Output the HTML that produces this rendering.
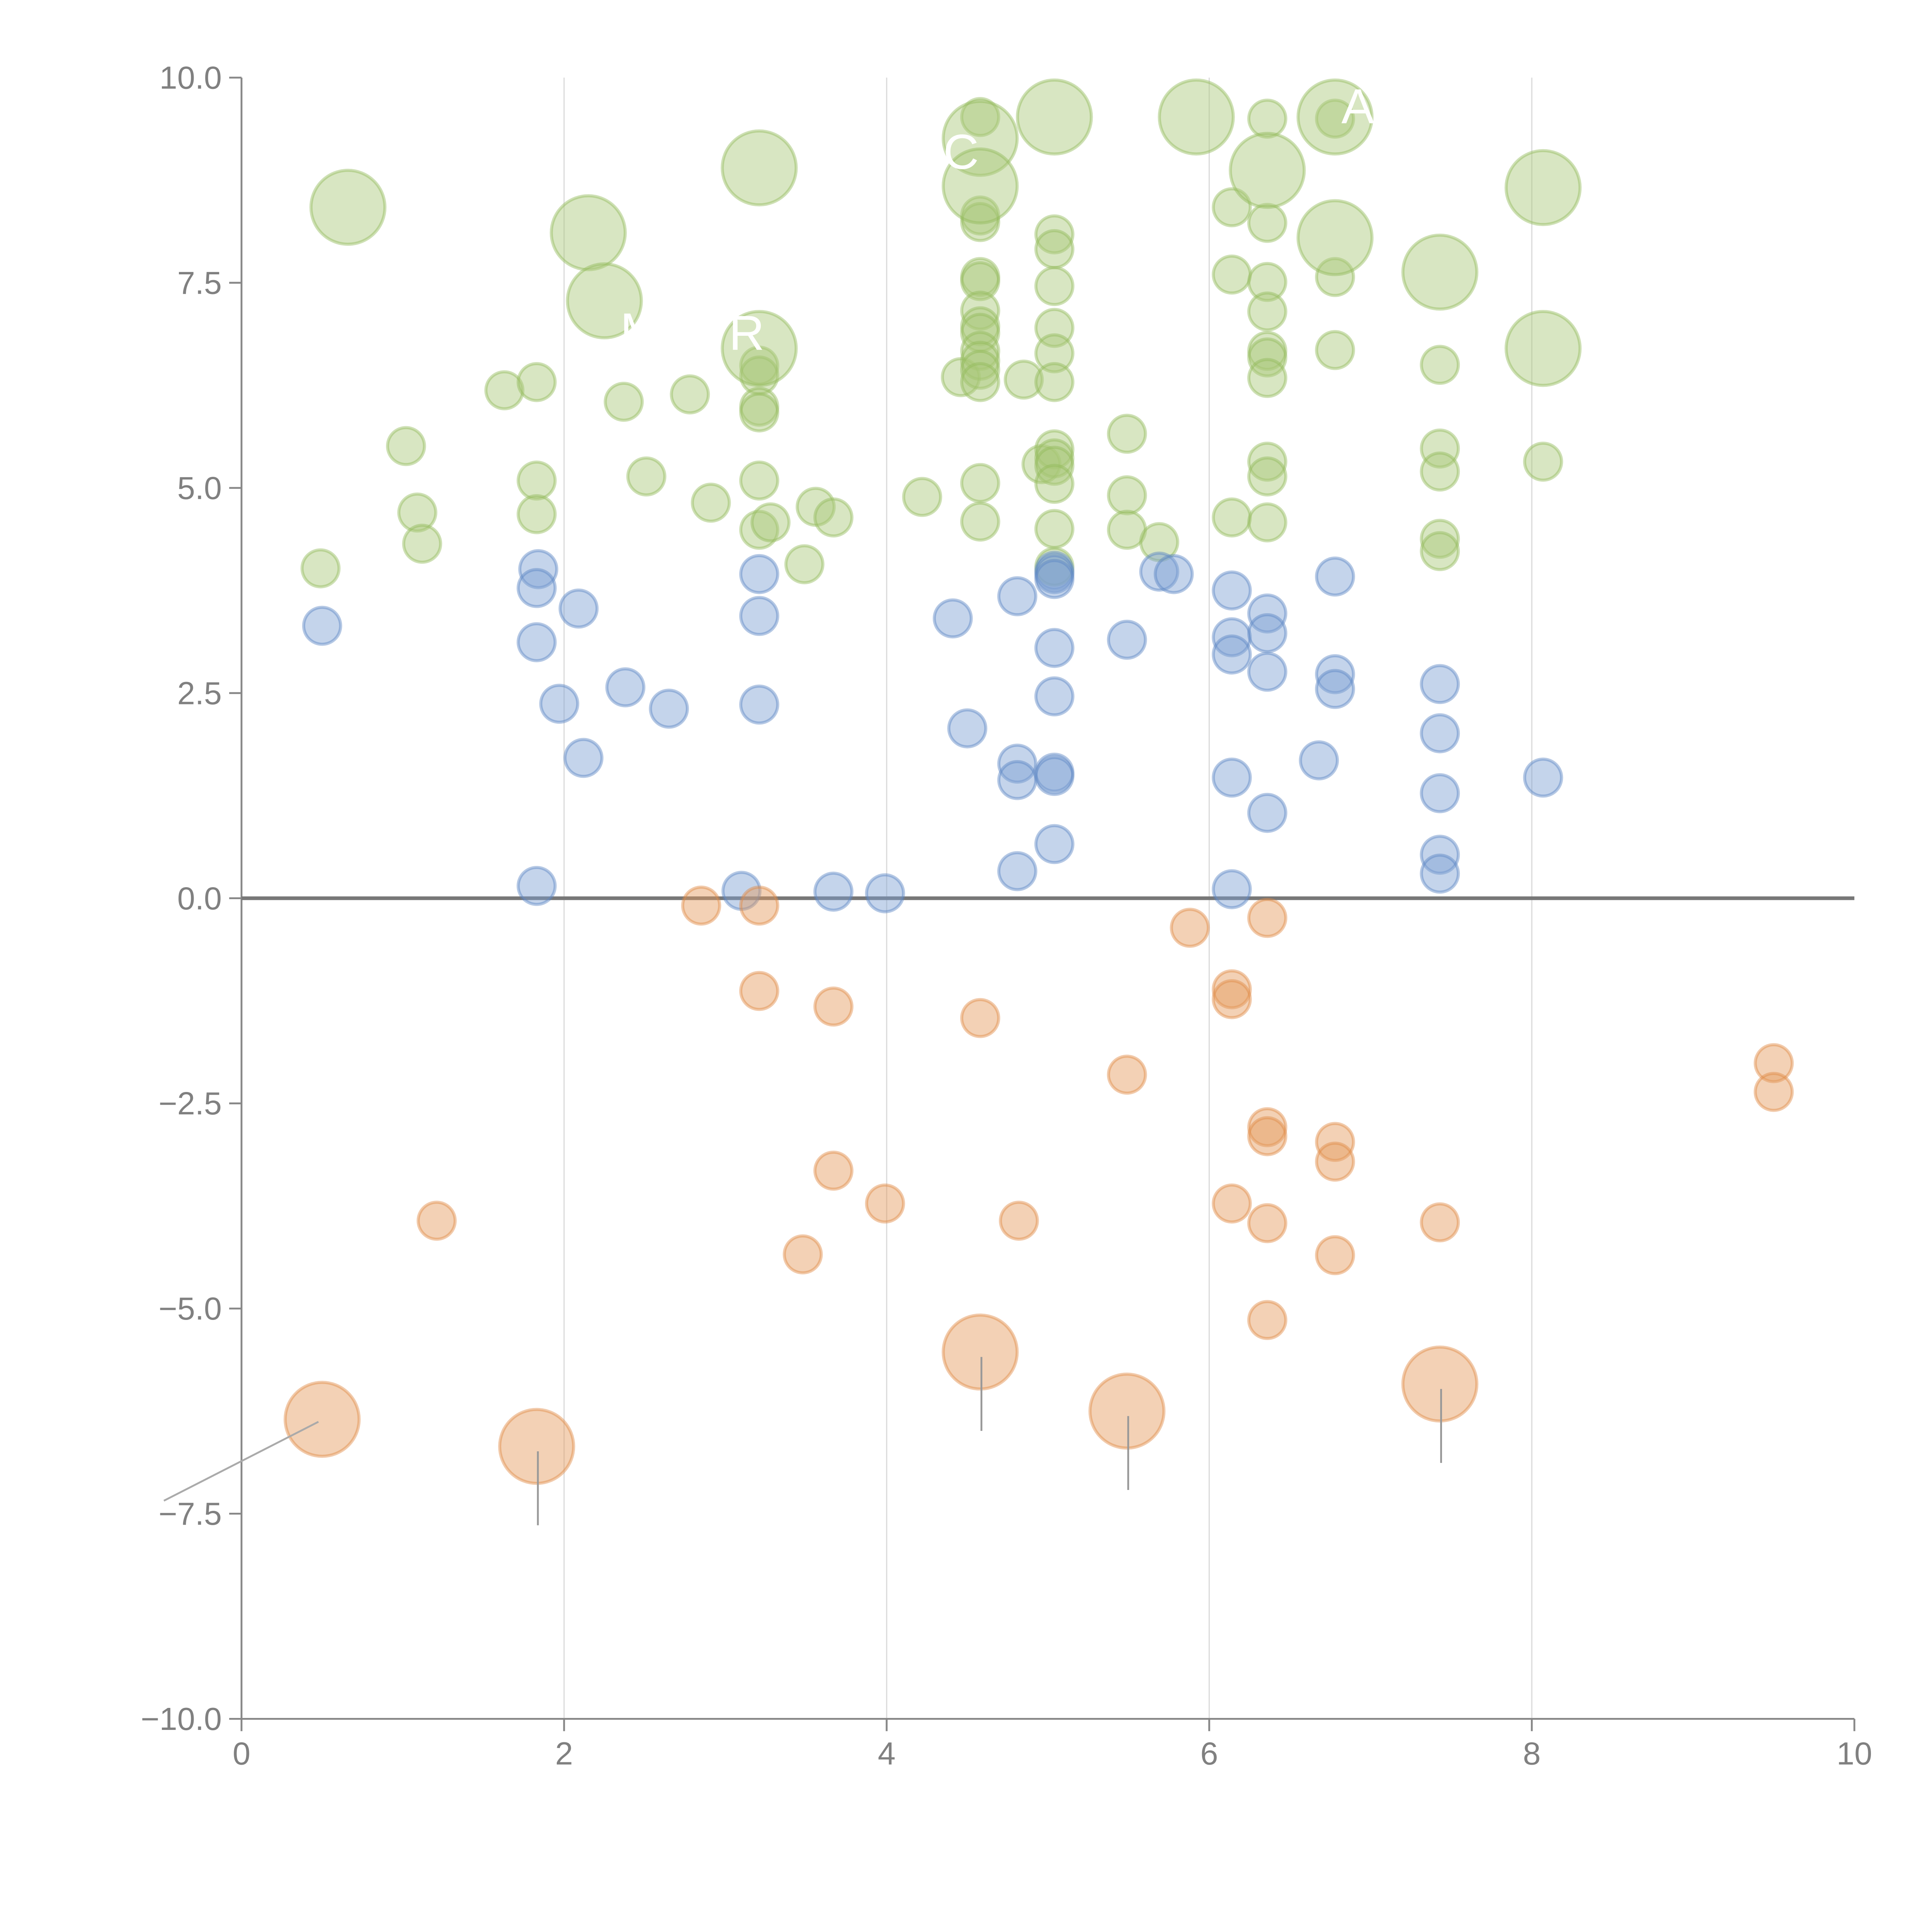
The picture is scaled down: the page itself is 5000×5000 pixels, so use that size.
<!DOCTYPE html>
<html><head><meta charset="utf-8"><style>
html,body{margin:0;padding:0;background:#fff;}
svg{display:block;}
text{font-family:"Liberation Sans",Arial,sans-serif;}
</style></head><body>
<svg id="chart" width="5000" height="5000" viewBox="0 0 1568 1568" xmlns="http://www.w3.org/2000/svg">
<g id="grid"></g>
<g id="axes"></g>
<g id="marks"></g>
<g id="labels"></g>
</svg>
<script>
const xTicks=[0,2,4,6,8,10];
const yTicks=[10,7.5,5,2.5,0,-2.5,-5,-7.5,-10];
const yTickLabels=["10.0","7.5","5.0","2.5","0.0","\u22122.5","\u22125.0","\u22127.5","\u221210.0"];
const greenSmallX=[0.49,1.02,1.09,1.12,1.63,1.83,1.83,1.83,2.37,2.51,2.78,2.91,3.21,3.21,3.21,3.21,3.21,3.21,3.28,3.49,3.56,3.67,4.22,4.46,4.58,4.58,4.58,4.58,4.58,4.58,4.58,4.58,4.58,4.58,4.58,4.58,4.58,4.58,4.85,4.96,5.04,5.04,5.04,5.04,5.04,5.04,5.04,5.04,5.04,5.04,5.04,5.04,5.49,5.49,5.49,5.69,6.14,6.14,6.14,6.36,6.36,6.36,6.36,6.36,6.36,6.36,6.36,6.36,6.36,6.78,6.78,6.78,7.43,7.43,7.43,7.43,7.43,8.07];
const greenSmallY=[4.02,5.51,4.70,4.32,6.19,6.29,5.09,4.68,6.05,5.14,6.14,4.82,6.49,6.37,5.99,5.92,5.09,4.49,4.58,4.07,4.77,4.64,4.89,6.35,9.52,8.32,8.24,7.57,7.52,7.16,6.97,6.89,6.67,6.55,6.44,6.29,5.06,4.59,6.32,5.29,8.09,7.91,7.46,6.95,6.64,6.29,5.47,5.36,5.27,5.05,4.50,4.04,5.66,4.91,4.49,4.34,8.42,7.60,4.64,9.50,8.23,7.51,7.15,6.67,6.59,6.34,5.32,5.14,4.58,9.50,7.57,6.68,6.50,5.48,5.20,4.38,4.23,5.32];
const greenLargeX=[0.66,2.15,2.25,3.21,3.21,4.58,4.58,5.04,5.92,6.36,6.78,6.78,7.43,8.07,8.07];
const greenLargeY=[8.42,8.11,7.28,8.90,6.70,9.26,8.68,9.52,9.52,8.87,9.52,8.05,7.63,8.66,6.70];
const blueX=[0.50,1.84,1.83,1.83,1.83,2.09,1.97,2.12,2.38,2.65,3.10,3.21,3.21,3.21,3.67,3.99,4.41,4.50,4.81,4.81,4.81,4.81,5.04,5.04,5.04,5.04,5.04,5.04,5.04,5.04,5.49,5.69,5.78,6.14,6.14,6.14,6.14,6.14,6.36,6.36,6.36,6.36,6.68,6.78,6.78,6.78,7.43,7.43,7.43,7.43,7.43,8.07];
const blueY=[3.32,4.01,3.78,3.12,0.15,3.53,2.37,1.71,2.57,2.31,0.09,3.95,3.44,2.36,0.08,0.06,3.41,2.07,3.68,1.64,1.44,0.33,3.99,3.95,3.89,3.05,2.46,1.53,1.49,0.66,3.15,3.98,3.95,3.75,3.18,2.97,1.47,0.11,3.47,3.23,2.76,1.04,1.68,3.92,2.73,2.55,2.61,2.01,1.28,0.53,0.30,1.47];
const orangeSmallX=[1.21,2.85,3.21,3.21,3.48,3.67,3.67,3.99,4.58,4.82,5.49,5.88,6.14,6.14,6.14,6.36,6.36,6.36,6.36,6.36,6.78,6.78,6.78,7.43,9.50,9.50];
const orangeSmallY=[-3.93,-0.09,-0.09,-1.13,-4.34,-1.32,-3.32,-3.72,-1.46,-3.93,-2.15,-0.36,-1.11,-1.23,-3.72,-0.24,-2.79,-2.90,-3.96,-5.14,-2.97,-3.21,-4.35,-3.95,-2.01,-2.36];
const orangeLargeX=[0.50,1.83,4.58,5.49,7.43];
const orangeLargeY=[-6.35,-6.68,-5.53,-6.25,-5.92];

const L=196,R=1505,T=63,B=1395;
const sx=v=>L+(v-0)/10*(R-L);
const sy=v=>T+(10-v)/20*(B-T);
const NS="http://www.w3.org/2000/svg";
function mk(tag,attrs,parent){const e=document.createElementNS(NS,tag);for(const k in attrs)e.setAttribute(k,attrs[k]);parent.appendChild(e);return e;}
const grid=document.getElementById('grid'),axes=document.getElementById('axes'),marks=document.getElementById('marks'),labels=document.getElementById('labels');

xTicks.forEach((t,i)=>{
  if(t>0&&t<10){const g=mk('line',{x1:sx(t),x2:sx(t),y1:T,y2:B,stroke:'#dcdcdc','stroke-width':1},grid);
    
    }
  const tk=mk('line',{x1:sx(t),x2:sx(t),y1:B,y2:B+10,stroke:'#888','stroke-width':1.5},axes);
  
  
  const tx=mk('text',{x:sx(t),y:B+37,'text-anchor':'middle','font-size':26,fill:'#808080'},axes);
  tx.textContent=String(t);
  
  
});
yTicks.forEach((t,i)=>{
  const tk=mk('line',{x1:L-10,x2:L,y1:sy(t),y2:sy(t),stroke:'#888','stroke-width':1.5},axes);
  
  
  const tx=mk('text',{x:L-16,y:sy(t)+9,'text-anchor':'end','font-size':26,fill:'#808080'},axes);
  tx.textContent=yTickLabels[i];
  
  
});
const xa=mk('line',{x1:L,x2:R,y1:B,y2:B,stroke:'#888','stroke-width':1.5},axes);


const ya=mk('line',{x1:L,x2:L,y1:T,y2:B,stroke:'#888','stroke-width':1.5},axes);


const zl=mk('line',{x1:L,x2:R,y1:sy(0),y2:sy(0),stroke:'#777','stroke-width':3},axes);



function series(xs,ys,r,fill,stroke,name){
  xs.forEach((x,i)=>{
    const c=mk('circle',{cx:sx(x),cy:sy(ys[i]),r:r,fill:fill,'fill-opacity':0.45,stroke:stroke,'stroke-opacity':0.45,'stroke-width':2.5},marks);
    
    
  });
}
series(greenSmallX,greenSmallY,15,'#a8c878','#93bb5c','green-point');
series(greenLargeX,greenLargeY,30,'#a8c878','#93bb5c','green-bubble');
series(blueX,blueY,15,'#7c9fd3','#5c86c4','blue-point');
series(orangeSmallX,orangeSmallY,15,'#e49a5c','#e08a45','orange-point');
series(orangeLargeX,orangeLargeY,30,'#e49a5c','#e08a45','orange-bubble');

orangeLargeX.forEach((x,i)=>{
  const cx=sx(x),cy=sy(orangeLargeY[i]);
  const ln=i===0?mk('line',{x1:cx-3,y1:cy+2,x2:133,y2:1218,stroke:'#aaa','stroke-width':1.5},labels)
               :mk('line',{x1:cx+1,y1:cy+4,x2:cx+1,y2:cy+64,stroke:'#999','stroke-width':1.5},labels);
  
  
});
[['C',780,137],['A',1102,100],['M',520,282],['R',606,284]].forEach(d=>{
  const t=mk('text',{x:d[1],y:d[2],'text-anchor':'middle','font-size':40,fill:'#fff'},labels);
  t.textContent=d[0];
  
  
});
</script>
</body></html>
